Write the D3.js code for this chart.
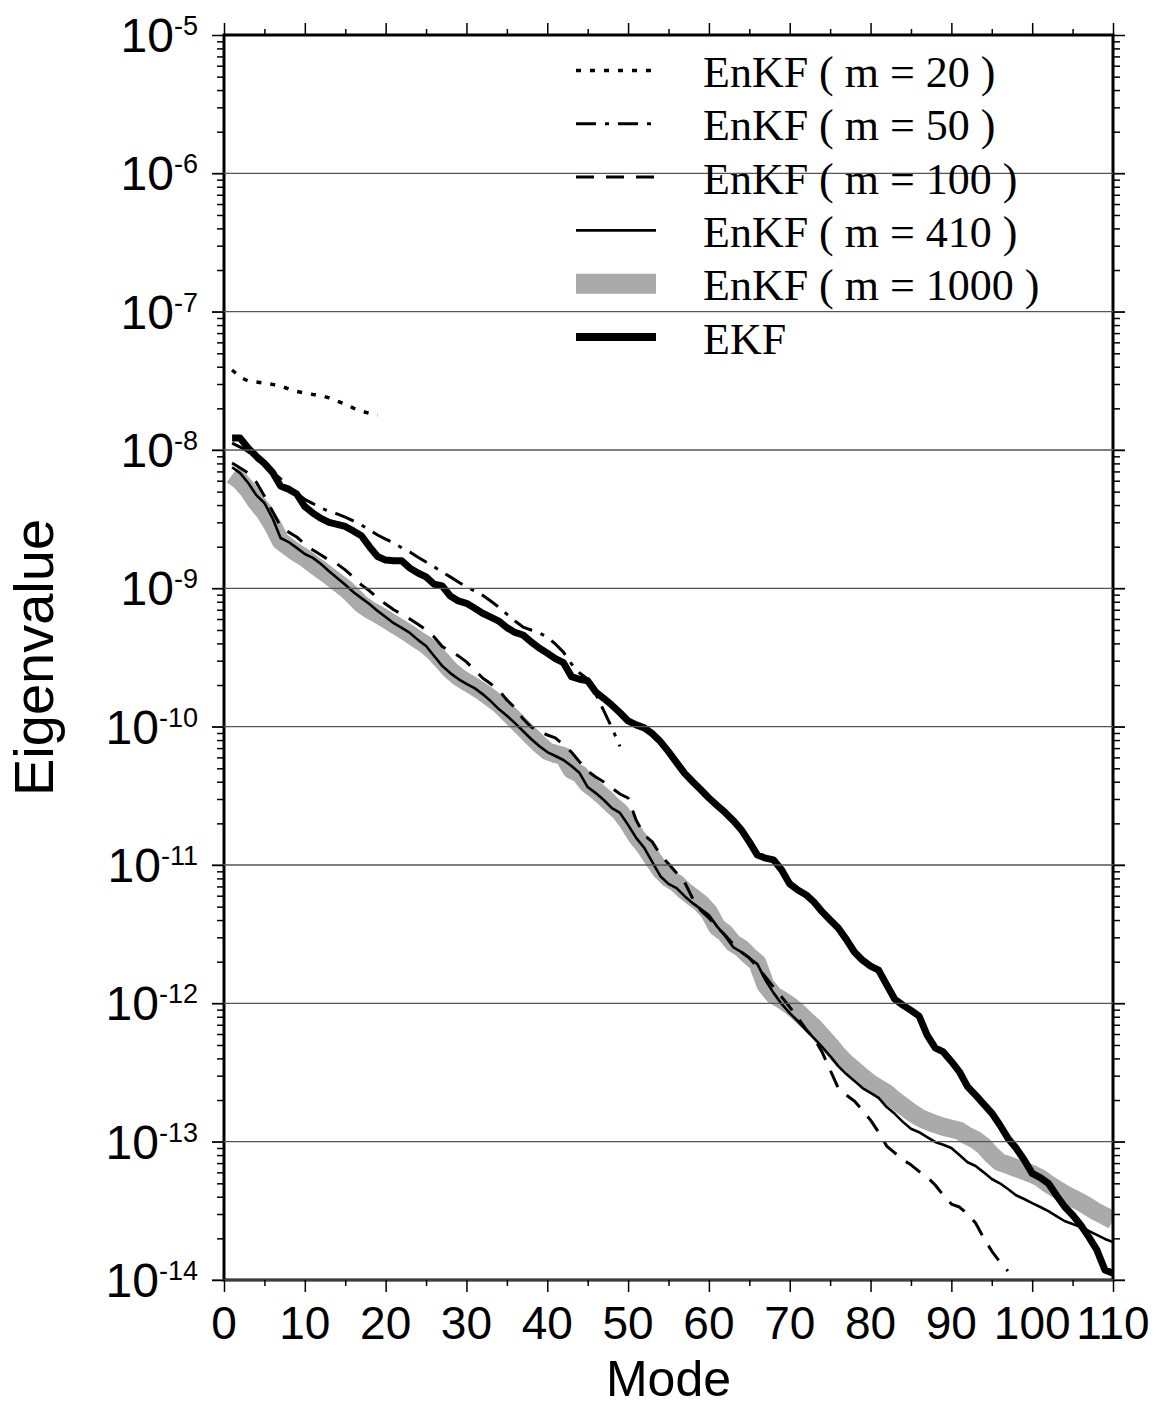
<!DOCTYPE html>
<html>
<head>
<meta charset="utf-8">
<script src="https://cdn.jsdelivr.net/npm/d3@7"></script>
<style>
  body { margin: 0; background: #fff; }
</style>
</head>
<body>
<svg id="chart"></svg>
<script>
// ---- data ----
const modeTicks = [0, 10, 20, 30, 40, 50, 60, 70, 80, 90, 100, 110];
const decadeExps = [-5, -6, -7, -8, -9, -10, -11, -12, -13, -14];
const legendLabels = ["EnKF ( m = 20 )", "EnKF ( m = 50 )", "EnKF ( m = 100 )",
                      "EnKF ( m = 410 )", "EnKF ( m = 1000 )", "EKF"];

// eigenvalue of mode 1, 2, 3, ...
const enkf20 = [3.79e-8, 3.37e-8, 3.15e-8, 3.10e-8, 3.05e-8, 2.98e-8, 2.90e-8, 2.76e-8, 2.65e-8, 2.58e-8,
  2.52e-8, 2.48e-8, 2.38e-8, 2.26e-8, 2.15e-8, 2.01e-8, 1.91e-8, 1.84e-8, 1.79e-8];

const enkf50 = [1.12e-8, 1.05e-8, 9.7e-9, 8.6e-9, 7.6e-9, 6.9e-9, 6.2e-9, 5.4e-9, 4.9e-9, 4.4e-9,
  4.1e-9, 3.8e-9, 3.6e-9, 3.45e-9, 3.27e-9, 3.07e-9, 2.87e-9, 2.64e-9, 2.43e-9, 2.27e-9,
  2.13e-9, 1.96e-9, 1.83e-9, 1.68e-9, 1.55e-9, 1.43e-9, 1.31e-9, 1.21e-9, 1.11e-9, 1.02e-9,
  9.6e-10, 8.9e-10, 8.1e-10, 7.3e-10, 6.5e-10, 5.8e-10, 5.25e-10, 5.0e-10, 4.76e-10, 4.45e-10,
  3.96e-10, 3.46e-10, 2.84e-10, 2.44e-10, 2.21e-10, 1.72e-10, 1.3e-10, 9.8e-11, 7.2e-11];

const enkf100 = [8.05e-9, 7.4e-9, 6.8e-9, 5.85e-9, 4.65e-9, 3.6e-9, 2.8e-9, 2.55e-9, 2.35e-9, 2.09e-9,
  1.89e-9, 1.74e-9, 1.6e-9, 1.5e-9, 1.36e-9, 1.21e-9, 1.06e-9, 9.6e-10, 8.5e-10, 7.7e-10,
  7.0e-10, 6.5e-10, 6.0e-10, 5.5e-10, 5.0e-10, 4.45e-10, 3.8e-10, 3.5e-10, 3.25e-10, 2.94e-10,
  2.57e-10, 2.25e-10, 2.04e-10, 1.84e-10, 1.56e-10, 1.37e-10, 1.14e-10, 9.95e-11, 9.3e-11, 8.7e-11,
  8.3e-11, 7.4e-11, 6.55e-11, 5.55e-11, 4.78e-11, 4.33e-11, 3.98e-11, 3.6e-11, 3.26e-11, 3.05e-11,
  2.11e-11, 1.65e-11, 1.47e-11, 1.18e-11, 1.02e-11, 8.75e-12, 7.5e-12, 5.7e-12, 4.7e-12, 4.14e-12,
  3.56e-12, 3.12e-12, 2.68e-12, 2.35e-12, 2.13e-12, 1.83e-12, 1.55e-12, 1.31e-12, 1.11e-12, 9.4e-13,
  7.85e-13, 6.5e-13, 5.6e-13, 4.45e-13, 3.3e-13, 2.44e-13, 2.17e-13, 1.97e-13, 1.69e-13, 1.43e-13,
  1.17e-13, 9.3e-14, 8.3e-14, 7.4e-14, 6.8e-14, 6.1e-14, 5.55e-14, 4.86e-14, 4.1e-14, 3.54e-14,
  3.37e-14, 3.0e-14, 2.58e-14, 2.01e-14, 1.62e-14, 1.35e-14, 1.16e-14];

const enkf410 = [7.5e-9, 6.8e-9, 5.77e-9, 4.72e-9, 4.14e-9, 3.22e-9, 2.31e-9, 2.16e-9, 1.96e-9, 1.77e-9,
  1.66e-9, 1.5e-9, 1.33e-9, 1.19e-9, 1.06e-9, 9.4e-10, 8.5e-10, 7.7e-10, 6.87e-10, 6.2e-10,
  5.6e-10, 5.17e-10, 4.76e-10, 4.24e-10, 3.83e-10, 3.24e-10, 2.75e-10, 2.44e-10, 2.21e-10, 2.04e-10,
  1.9e-10, 1.72e-10, 1.53e-10, 1.34e-10, 1.2e-10, 1.06e-10, 9.3e-11, 8.14e-11, 7.25e-11, 6.55e-11,
  6.14e-11, 5.74e-11, 5.2e-11, 4.62e-11, 3.66e-11, 3.31e-11, 2.95e-11, 2.58e-11, 2.38e-11, 1.95e-11,
  1.57e-11, 1.33e-11, 1.05e-11, 8.3e-12, 7.3e-12, 6.8e-12, 5.95e-12, 5.3e-12, 4.8e-12, 4.35e-12,
  3.6e-12, 3.07e-12, 2.55e-12, 2.35e-12, 2.13e-12, 1.92e-12, 1.47e-12, 1.19e-12, 9.9e-13, 8.5e-13,
  7.45e-13, 6.42e-13, 5.6e-13, 4.84e-13, 4.16e-13, 3.52e-13, 3.08e-13, 2.75e-13, 2.44e-13, 2.25e-13,
  2.07e-13, 1.78e-13, 1.59e-13, 1.39e-13, 1.24e-13, 1.17e-13, 1.08e-13, 9.95e-14, 9.5e-14, 9.0e-14,
  8.0e-14, 7.1e-14, 6.67e-14, 6.0e-14, 5.37e-14, 5.0e-14, 4.55e-14, 4.1e-14, 3.85e-14, 3.6e-14,
  3.37e-14, 3.15e-14, 2.9e-14, 2.67e-14, 2.54e-14, 2.42e-14, 2.26e-14, 2.12e-14, 1.98e-14, 1.88e-14];

const enkf1000 = [6.6e-9, 5.97e-9, 5.13e-9, 4.2e-9, 3.56e-9, 2.87e-9, 2.2e-9, 1.99e-9, 1.8e-9, 1.66e-9,
  1.5e-9, 1.36e-9, 1.23e-9, 1.11e-9, 1.0e-9, 8.8e-10, 7.7e-10, 7.0e-10, 6.5e-10, 6.0e-10,
  5.5e-10, 5.08e-10, 4.67e-10, 4.24e-10, 3.9e-10, 3.46e-10, 2.98e-10, 2.57e-10, 2.29e-10, 2.1e-10,
  1.94e-10, 1.78e-10, 1.61e-10, 1.46e-10, 1.28e-10, 1.12e-10, 9.8e-11, 8.55e-11, 7.5e-11, 6.67e-11,
  6.35e-11, 6.14e-11, 4.86e-11, 4.55e-11, 3.85e-11, 3.48e-11, 3.1e-11, 2.72e-11, 2.42e-11, 2.01e-11,
  1.62e-11, 1.37e-11, 1.12e-11, 9.2e-12, 8.05e-12, 7.4e-12, 6.5e-12, 5.87e-12, 5.3e-12, 4.57e-12,
  3.56e-12, 3.22e-12, 2.73e-12, 2.51e-12, 2.2e-12, 1.96e-12, 1.36e-12, 1.15e-12, 1.06e-12, 9.7e-13,
  8.66e-13, 7.6e-13, 6.75e-13, 5.8e-13, 5.0e-13, 4.24e-13, 3.7e-13, 3.3e-13, 2.94e-13, 2.65e-13,
  2.44e-13, 2.25e-13, 2.0e-13, 1.81e-13, 1.64e-13, 1.5e-13, 1.41e-13, 1.34e-13, 1.28e-13, 1.24e-13,
  1.2e-13, 1.1e-13, 1.03e-13, 9.3e-14, 8.0e-14, 7.1e-14, 6.8e-14, 6.45e-14, 6.14e-14, 5.84e-14,
  5.46e-14, 4.94e-14, 4.55e-14, 4.19e-14, 3.9e-14, 3.66e-14, 3.37e-14, 3.1e-14, 2.9e-14, 2.7e-14];

const ekf = [1.22e-8, 1.22e-8, 1.03e-8, 9.0e-9, 8.0e-9, 6.9e-9, 5.5e-9, 5.2e-9, 4.8e-9, 3.9e-9,
  3.5e-9, 3.2e-9, 3.0e-9, 2.9e-9, 2.8e-9, 2.6e-9, 2.4e-9, 2.0e-9, 1.7e-9, 1.6e-9,
  1.58e-9, 1.58e-9, 1.4e-9, 1.29e-9, 1.21e-9, 1.07e-9, 1.04e-9, 8.8e-10, 8.1e-10, 7.8e-10,
  7.2e-10, 6.6e-10, 6.2e-10, 5.8e-10, 5.2e-10, 4.8e-10, 4.6e-10, 4.1e-10, 3.7e-10, 3.4e-10,
  3.1e-10, 2.9e-10, 2.3e-10, 2.2e-10, 2.15e-10, 1.78e-10, 1.6e-10, 1.43e-10, 1.26e-10, 1.1e-10,
  1.03e-10, 9.8e-11, 8.9e-11, 7.8e-11, 6.6e-11, 5.5e-11, 4.6e-11, 4.0e-11, 3.5e-11, 3.05e-11,
  2.7e-11, 2.4e-11, 2.1e-11, 1.8e-11, 1.47e-11, 1.18e-11, 1.12e-11, 1.09e-11, 9.2e-12, 7.3e-12,
  6.6e-12, 6.1e-12, 5.4e-12, 4.6e-12, 4.0e-12, 3.5e-12, 2.9e-12, 2.35e-12, 2.05e-12, 1.86e-12,
  1.74e-12, 1.36e-12, 1.07e-12, 9.7e-13, 8.9e-13, 8.1e-13, 5.9e-13, 4.76e-13, 4.45e-13, 3.8e-13,
  3.2e-13, 2.5e-13, 2.17e-13, 1.87e-13, 1.61e-13, 1.32e-13, 1.06e-13, 9.0e-14, 7.4e-14, 5.9e-14,
  5.5e-14, 5.0e-14, 4.1e-14, 3.4e-14, 2.95e-14, 2.5e-14, 2.05e-14, 1.65e-14, 1.18e-14, 1.12e-14];

// ---- chart ----
const width = 1157, height = 1407;
const margin = { top: 35, right: 44, bottom: 127, left: 224 };
const sans = "'Liberation Sans', Arial, Helvetica, sans-serif";
const serif = "'Liberation Serif', 'Times New Roman', serif";

const svg = d3.select("#chart").attr("width", width).attr("height", height);

const x = d3.scaleLinear().domain([0, 110]).range([margin.left, width - margin.right]);
const y = d3.scaleLog().domain([1e-14, 1e-5]).range([height - margin.bottom, margin.top]);

svg.append("defs").append("clipPath").attr("id", "plotclip")
  .append("rect")
  .attr("x", margin.left).attr("y", margin.top)
  .attr("width", x.range()[1] - x.range()[0])
  .attr("height", y.range()[0] - y.range()[1]);

// series styles, in drawing order
const series = [
  { key: "enkf1000", values: enkf1000, color: "#aaaaaa", w: 18, dash: null, legend: 4 },
  { key: "enkf100", values: enkf100, color: "#000", w: 3, dash: "18,12", legend: 2 },
  { key: "enkf50", values: enkf50, color: "#000", w: 3, dash: "20,9,4,9", legend: 1 },
  { key: "enkf20", values: enkf20, color: "#000", w: 3.5, dash: "5,9", legend: 0 },
  { key: "enkf410", values: enkf410, color: "#000", w: 2.6, dash: null, legend: 3 },
  { key: "ekf", values: ekf, color: "#000", w: 7, dash: null, legend: 5 }
];

const line = d3.line()
  .x((d, i) => x(i + 1))
  .y(d => y(d));

const plot = svg.append("g").attr("clip-path", "url(#plotclip)");

// gray band first
plot.append("path")
  .datum(series[0].values)
  .attr("d", line)
  .attr("fill", "none")
  .attr("stroke", series[0].color)
  .attr("stroke-width", series[0].w)
  .attr("stroke-linejoin", "round");

// frame
const frame = svg.append("g");
frame.append("rect")
  .attr("x", x.range()[0]).attr("y", y.range()[1])
  .attr("width", x.range()[1] - x.range()[0])
  .attr("height", y.range()[0] - y.range()[1])
  .attr("fill", "none").attr("stroke", "#000").attr("stroke-width", 3);

// decade grid lines
const decades = decadeExps.map(e => Math.pow(10, e));
svg.append("g").selectAll("line")
  .data(decades.filter(v => v < 1e-5))
  .enter().append("line")
  .attr("x1", x.range()[0] - 12).attr("x2", x.range()[1] + 12)
  .attr("y1", d => y(d)).attr("y2", d => y(d))
  .attr("stroke", "#555").attr("stroke-width", 1.4);

// other series
series.slice(1).forEach(s => {
  plot.append("path")
    .datum(s.values)
    .attr("d", line)
    .attr("fill", "none")
    .attr("stroke", s.color)
    .attr("stroke-width", s.w)
    .attr("stroke-dasharray", s.dash)
    .attr("stroke-linejoin", "round");
});

// ticks
const minorY = y.ticks().filter(v => !decades.some(d => Math.abs(d - v) / v < 1e-6));
function styleAxis(g) {
  g.select(".domain").remove();
  g.selectAll(".tick line").attr("stroke", "#000").attr("stroke-width", 1.5);
  g.selectAll(".tick text").remove();
}
const tickSets = [
  [d3.axisLeft(y).tickValues(decades).tickSize(12), `translate(${x.range()[0]},0)`],
  [d3.axisLeft(y).tickValues(minorY).tickSize(7), `translate(${x.range()[0]},0)`],
  [d3.axisRight(y).tickValues(decades).tickSize(12), `translate(${x.range()[1]},0)`],
  [d3.axisRight(y).tickValues(minorY).tickSize(7), `translate(${x.range()[1]},0)`],
  [d3.axisBottom(x).tickValues(modeTicks).tickSize(12), `translate(0,${y.range()[0]})`],
  [d3.axisBottom(x).tickValues(d3.range(5, 110, 10)).tickSize(6), `translate(0,${y.range()[0]})`],
  [d3.axisTop(x).tickValues(modeTicks).tickSize(12), `translate(0,${y.range()[1]})`],
  [d3.axisTop(x).tickValues(d3.range(5, 110, 10)).tickSize(6), `translate(0,${y.range()[1]})`]
];
tickSets.forEach(([ax, tr]) => {
  svg.append("g").attr("transform", tr).call(ax).call(styleAxis);
});

// y tick labels 10^e
const yLab = svg.append("g").attr("font-family", sans).attr("fill", "#000");
decadeExps.forEach(e => {
  const t = yLab.append("text")
    .attr("x", 198)
    .attr("y", y(Math.pow(10, e)) + 17)
    .attr("text-anchor", "end")
    .attr("font-size", 48);
  t.append("tspan").text("10");
  t.append("tspan").attr("font-size", 27).attr("dy", -17).text("-" + Math.abs(e));
});

// x tick labels
svg.append("g").selectAll("text")
  .data(modeTicks)
  .enter().append("text")
  .attr("x", d => x(d))
  .attr("y", 1339)
  .attr("text-anchor", "middle")
  .attr("font-family", sans)
  .attr("font-size", 46)
  .text(d => d);

// axis titles
svg.append("text")
  .attr("x", (x.range()[0] + x.range()[1]) / 2)
  .attr("y", 1396)
  .attr("text-anchor", "middle")
  .attr("font-family", sans)
  .attr("font-size", 50)
  .text("Mode");

svg.append("text")
  .attr("transform", `translate(53,${(y.range()[0] + y.range()[1]) / 2}) rotate(-90)`)
  .attr("text-anchor", "middle")
  .attr("font-family", sans)
  .attr("font-size", 56)
  .text("Eigenvalue");

// legend
const legend = svg.append("g");
const legendRows = series.slice().sort((a, b) => a.legend - b.legend);
legendRows.forEach((s, i) => {
  const ly = 70.5 + i * 53.3;
  legend.append("line")
    .attr("x1", 576).attr("x2", 656)
    .attr("y1", ly).attr("y2", ly)
    .attr("stroke", s.color)
    .attr("stroke-width", s.key === "enkf1000" ? 20 : (s.key === "ekf" ? 8 : s.w))
    .attr("stroke-dasharray", s.dash);
  legend.append("text")
    .attr("x", 703).attr("y", ly + 16.5)
    .attr("font-family", serif)
    .attr("font-size", 44)
    .text(legendLabels[i]);
});
</script>
</body>
</html>
